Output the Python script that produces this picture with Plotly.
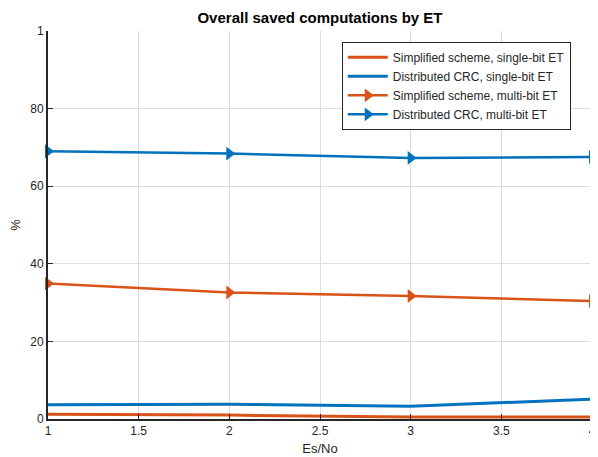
import plotly.graph_objects as go

es_no = [1, 2, 3, 4]
simp_single = [1.2, 1.0, 0.5, 0.5]
dist_single = [3.7, 3.8, 3.3, 5.1]
simp_multi = [34.9, 32.6, 31.7, 30.4]
dist_multi = [69.0, 68.4, 67.3, 67.5]
x_ticks = [1, 1.5, 2, 2.5, 3, 3.5, 4]
x_ticktext = ["1", "1.5", "2", "2.5", "3", "3.5", "4"]
y_ticks = [0, 20, 40, 60, 80, 100]
y_ticktext = ["0", "20", "40", "60", "80", "1"]

orange = "#D95319"
blue = "#0072BD"

fig = go.Figure()
fig.add_trace(go.Scatter(x=es_no, y=simp_single, mode="lines", name="Simplified scheme, single-bit ET",
                         line=dict(color=orange, width=3), cliponaxis=False))
fig.add_trace(go.Scatter(x=es_no, y=dist_single, mode="lines", name="Distributed CRC, single-bit ET",
                         line=dict(color=blue, width=3), cliponaxis=False))
fig.add_trace(go.Scatter(x=es_no, y=simp_multi, mode="lines+markers", name="Simplified scheme, multi-bit ET",
                         line=dict(color=orange, width=2.5), cliponaxis=False,
                         marker=dict(symbol="triangle-right", size=12, color=orange)))
fig.add_trace(go.Scatter(x=es_no, y=dist_multi, mode="lines+markers", name="Distributed CRC, multi-bit ET",
                         line=dict(color=blue, width=2.5), cliponaxis=False,
                         marker=dict(symbol="triangle-right", size=12, color=blue)))

# page body has an 8px margin, so the figure is sized/offset to compensate
fig.update_layout(
    width=590, height=449,
    margin=dict(l=40, r=6, t=23, b=38),
    paper_bgcolor="white", plot_bgcolor="white",
    font=dict(family="Liberation Sans, Arial", size=12, color="#262626"),
    title=dict(text="<b>Overall saved computations by ET</b>", x=0.5, xref="paper", xanchor="center",
               y=1, yref="container", yanchor="top", pad=dict(t=4), font=dict(size=15, color="black")),
    showlegend=True,
    legend=dict(x=0.54, y=0.972, xanchor="left", yanchor="top", bgcolor="white",
                bordercolor="#262626", borderwidth=1, font=dict(size=12, color="#262626"),
                tracegroupgap=0, itemwidth=40),
)
fig.update_xaxes(range=[1, 4], tickvals=x_ticks, ticktext=x_ticktext,
                 showgrid=True, gridcolor="#DCDCDC", gridwidth=1,
                 showline=True, linecolor="#262626", linewidth=2,
                 ticks="inside", ticklen=5, tickcolor="#262626", automargin=False,
                 title=dict(text="Es/No", standoff=6, font=dict(size=13)), zeroline=False)
fig.update_yaxes(range=[0, 100], tickvals=y_ticks, ticktext=y_ticktext,
                 showgrid=True, gridcolor="#DCDCDC", gridwidth=1,
                 showline=True, linecolor="#262626", linewidth=2,
                 ticks="inside", ticklen=5, tickcolor="#262626", automargin=False,
                 title=dict(text="%", standoff=12, font=dict(size=13)), zeroline=False)

fig.write_html("out.html")
